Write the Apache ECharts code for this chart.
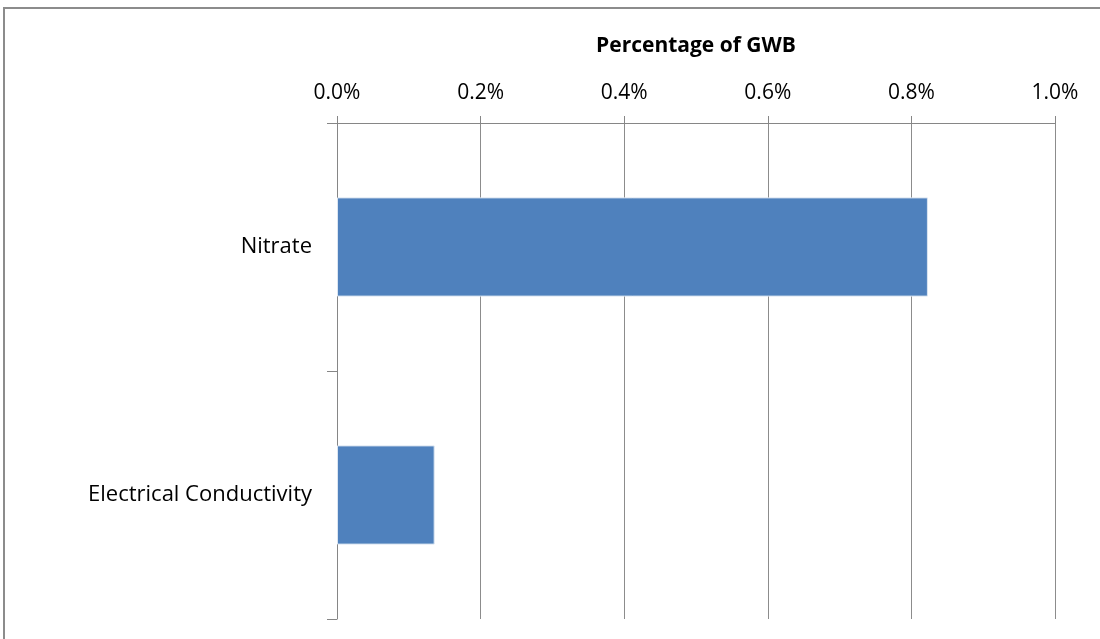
<!DOCTYPE html>
<html><head><meta charset="utf-8">
<script src="https://cdn.jsdelivr.net/npm/echarts@6/dist/echarts.min.js"></script>
<style>html,body{margin:0;padding:0;background:#fff}#c{width:1100px;height:639px}</style>
</head><body><div id="c"></div>
<script>
const categories = ['Nitrate', 'Electrical Conductivity'];
const values = [0.823, 0.136];
const xTicks = [0, 0.2, 0.4, 0.6, 0.8, 1.0];
const axisTitle = 'Percentage of GWB';

const chart = echarts.init(document.getElementById('c'), null, {renderer: 'canvas'});
chart.setOption({
  animation: false,
  backgroundColor: '#fff',
  graphic: [{
    type: 'rect', silent: true,
    shape: {x: 4, y: 8, width: 1300, height: 800},
    style: {fill: 'none', stroke: '#8c8c8c', lineWidth: 2}
  }],
  grid: {left: 337, top: 123, right: 45, bottom: 20, containLabel: false},
  xAxis: {
    type: 'value', position: 'top',
    min: xTicks[0], max: xTicks[xTicks.length - 1], interval: 0.2,
    name: axisTitle, nameLocation: 'middle', nameGap: 66,
    nameTextStyle: {fontFamily: 'Open Sans', fontWeight: 'bold', fontSize: 21, color: '#000'},
    axisLine: {show: true, lineStyle: {color: '#868686', width: 1}},
    axisTick: {show: true, inside: false, length: 7, lineStyle: {color: '#868686'}},
    axisLabel: {margin: 19, fontFamily: 'Open Sans', fontSize: 21, color: '#000',
      formatter: v => v.toFixed(1) + '%'},
    splitLine: {show: true, lineStyle: {color: '#8c8c8c', width: 1}}
  },
  yAxis: {
    type: 'category', data: categories, inverse: true,
    axisLine: {show: true, lineStyle: {color: '#868686', width: 1}},
    axisTick: {show: true, length: 10, lineStyle: {color: '#868686'}},
    axisLabel: {margin: 25, fontFamily: 'Open Sans', fontSize: 22, color: '#000', padding: [5, 0, 0, 0]},
    splitLine: {show: false}
  },
  series: [{
    type: 'bar', data: values, barWidth: '40%',
    itemStyle: {color: '#4F81BD', borderColor: '#dbe5f1', borderWidth: 1}
  }]
});
</script></body></html>
